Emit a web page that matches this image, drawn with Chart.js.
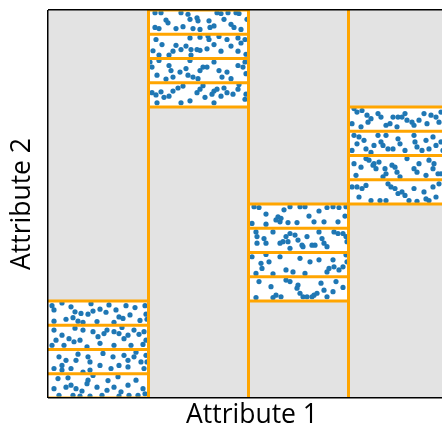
<!doctype html>
<html lang="en">
<head>
    <meta charset="utf-8">
    <title>Latin hypercube strata</title>
    <script src="https://cdn.jsdelivr.net/npm/chart.js@4.4.0/dist/chart.umd.min.js"></script>
</head>
<style>
    body{
        margin: 0;
        overflow: hidden;
        background: #fff;
    }
    #wrap{
        width: 460px;
        height: 428px;
    }
</style>
<body>
    <div id="wrap">
        <canvas id="myChart" width="460" height="428"></canvas>
    </div>
  <script>
        // one interval of attribute 1 per column, paired with one quarter of attribute 2
        const attr1Bins = [0, 1, 2, 3];
        const attr2Bins = [0, 3, 1, 2];
        const binWidth = 1;
        const binHeight = 0.25;
        const subStrata = 4;
        const xMax = 4.08;

        // samples drawn inside each column
        const band1Points = [
            [0.04,0.238],[0.06,0.227],[0.23,0.235],[0.27,0.222],[0.33,0.218],[0.40,0.216],[0.25,0.207],[0.30,0.198],
            [0.45,0.224],[0.52,0.229],[0.61,0.240],[0.58,0.221],[0.68,0.227],[0.71,0.209],[0.78,0.238],[0.75,0.205],
            [0.82,0.214],[0.87,0.233],[0.97,0.238],[0.98,0.216],[0.99,0.203],[0.49,0.197],[0.18,0.203],[0.06,0.198],
            [0.35,0.195],[0.66,0.195],[0.92,0.200],[0.14,0.245],[0.43,0.243],
            [0.06,0.175],[0.08,0.149],[0.14,0.162],[0.21,0.153],[0.26,0.145],[0.32,0.149],[0.35,0.175],[0.45,0.171],
            [0.50,0.158],[0.56,0.166],[0.52,0.141],[0.59,0.175],[0.66,0.171],[0.71,0.166],[0.76,0.153],[0.80,0.162],
            [0.86,0.175],[0.91,0.164],[0.96,0.171],[0.98,0.149],[0.04,0.136],[0.16,0.136],[0.39,0.132],[0.66,0.136],
            [0.83,0.136],[0.95,0.138],[0.27,0.180],[0.74,0.182],
            [0.11,0.106],[0.18,0.097],[0.28,0.097],[0.40,0.106],[0.42,0.093],[0.52,0.084],[0.63,0.076],[0.65,0.106],
            [0.76,0.110],[0.80,0.097],[0.86,0.106],[0.93,0.093],[0.99,0.093],[0.06,0.076],[0.14,0.072],[0.23,0.076],
            [0.35,0.067],[0.42,0.072],[0.71,0.084],[0.80,0.080],[0.96,0.076],[0.14,0.084],[0.55,0.115],[0.30,0.113],
            [0.88,0.118],[0.98,0.110],
            [0.06,0.024],[0.18,0.028],[0.23,0.033],[0.28,0.024],[0.39,0.037],[0.40,0.046],[0.49,0.028],[0.59,0.020],
            [0.66,0.028],[0.73,0.016],[0.80,0.033],[0.88,0.046],[0.95,0.024],[0.97,0.011],[0.11,0.007],[0.25,0.007],
            [0.32,0.005],[0.42,0.005],[0.54,0.007],[0.71,0.005],[0.81,0.007],[0.90,0.007],[0.45,0.058],[0.70,0.055],
            [0.20,0.052],[0.60,0.045],[0.10,0.050],[0.34,0.018]
        ];
        const band2Points = [
            [1.07,0.993],[1.13,0.993],[1.18,0.974],[1.20,0.967],[1.07,0.955],[1.11,0.952],[1.33,0.993],[1.35,0.957],
            [1.42,0.976],[1.49,0.980],[1.50,0.972],[1.45,0.952],[1.52,0.950],[1.61,0.972],[1.62,0.955],[1.69,0.993],
            [1.73,0.991],[1.76,0.976],[1.80,0.993],[1.83,0.963],[1.88,0.993],[1.91,0.991],[1.93,0.950],[1.99,0.976],
            [1.40,0.989],[1.66,0.959],[1.86,0.955],[1.28,0.952],
            [1.08,0.924],[1.14,0.911],[1.25,0.894],[1.28,0.909],[1.33,0.898],[1.38,0.907],[1.42,0.928],[1.43,0.898],
            [1.49,0.898],[1.52,0.930],[1.52,0.896],[1.59,0.900],[1.61,0.924],[1.66,0.911],[1.71,0.932],[1.73,0.894],
            [1.79,0.924],[1.83,0.907],[1.90,0.928],[1.93,0.915],[1.97,0.924],[1.98,0.886],[1.90,0.894],[1.11,0.884],
            [1.21,0.884],[1.43,0.884],[1.60,0.933],[1.05,0.895],
            [1.02,0.866],[1.04,0.853],[1.09,0.832],[1.21,0.857],[1.23,0.844],[1.25,0.827],[1.32,0.840],[1.38,0.849],
            [1.40,0.832],[1.45,0.827],[1.50,0.823],[1.52,0.844],[1.55,0.853],[1.59,0.853],[1.71,0.844],[1.74,0.827],
            [1.79,0.840],[1.90,0.857],[1.95,0.853],[1.97,0.866],[1.98,0.836],[1.11,0.870],[1.42,0.870],[1.66,0.866],
            [1.83,0.823],[1.18,0.822],
            [1.04,0.787],[1.08,0.781],[1.13,0.789],[1.16,0.775],[1.21,0.778],[1.25,0.791],[1.30,0.799],[1.35,0.804],
            [1.33,0.761],[1.49,0.787],[1.52,0.796],[1.57,0.775],[1.64,0.783],[1.66,0.791],[1.69,0.796],[1.73,0.778],
            [1.76,0.799],[1.79,0.787],[1.85,0.783],[1.90,0.796],[1.91,0.808],[1.97,0.770],[1.98,0.783],[1.09,0.761],
            [1.42,0.766],[1.66,0.761],[1.55,0.805]
        ];
        const band3Points = [
            [2.06,0.493],[2.11,0.491],[2.18,0.474],[2.28,0.459],[2.30,0.467],[2.32,0.454],[2.33,0.463],[2.40,0.452],
            [2.42,0.493],[2.52,0.493],[2.57,0.493],[2.61,0.469],[2.66,0.454],[2.71,0.482],[2.79,0.491],[2.85,0.493],
            [2.90,0.454],[2.91,0.491],[2.97,0.469],[2.98,0.493],[2.04,0.450],[2.49,0.452],[2.76,0.454],[2.18,0.448],
            [2.36,0.485],
            [2.08,0.428],[2.09,0.416],[2.16,0.411],[2.09,0.399],[2.18,0.399],[2.32,0.399],[2.35,0.403],[2.38,0.416],
            [2.40,0.403],[2.42,0.424],[2.47,0.420],[2.50,0.407],[2.54,0.394],[2.55,0.390],[2.64,0.394],[2.67,0.394],
            [2.71,0.428],[2.74,0.411],[2.76,0.399],[2.79,0.390],[2.86,0.428],[2.90,0.424],[2.95,0.424],[2.98,0.416],
            [2.99,0.403],[2.25,0.428],[2.59,0.416],[2.42,0.386],
            [2.04,0.364],[2.13,0.347],[2.14,0.334],[2.21,0.351],[2.38,0.330],[2.45,0.325],[2.62,0.351],[2.79,0.325],
            [2.81,0.334],[2.86,0.338],[2.91,0.330],[2.95,0.338],[2.98,0.369],[2.99,0.351],[2.71,0.356],[2.32,0.364],
            [2.52,0.360],[2.08,0.321],[2.25,0.320],[2.85,0.356],[2.57,0.321],[2.18,0.370],
            [2.23,0.287],[2.28,0.265],[2.38,0.304],[2.42,0.300],[2.49,0.283],[2.50,0.291],[2.52,0.270],[2.55,0.261],
            [2.59,0.261],[2.64,0.261],[2.66,0.265],[2.69,0.270],[2.76,0.278],[2.79,0.261],[2.85,0.274],[2.88,0.300],
            [2.33,0.261],[2.25,0.259],[2.11,0.300],[2.08,0.259],[2.73,0.296],[2.95,0.285]
        ];
        const band4Points = [
            [3.06,0.746],[3.09,0.737],[3.14,0.741],[3.19,0.729],[3.23,0.720],[3.20,0.711],[3.30,0.733],[3.33,0.724],
            [3.38,0.703],[3.42,0.707],[3.45,0.724],[3.50,0.724],[3.54,0.724],[3.57,0.733],[3.59,0.716],[3.64,0.711],
            [3.66,0.703],[3.76,0.733],[3.79,0.707],[3.83,0.729],[3.88,0.724],[3.91,0.711],[3.93,0.737],[3.04,0.707],
            [3.13,0.699],[3.49,0.699],[3.71,0.716],
            [3.06,0.677],[3.11,0.673],[3.09,0.655],[3.16,0.664],[3.18,0.642],[3.26,0.651],[3.30,0.677],[3.33,0.660],
            [3.35,0.651],[3.38,0.677],[3.40,0.642],[3.50,0.668],[3.52,0.655],[3.57,0.638],[3.66,0.677],[3.67,0.660],
            [3.69,0.647],[3.74,0.638],[3.78,0.664],[3.81,0.642],[3.85,0.673],[3.88,0.651],[3.93,0.660],[3.95,0.638],
            [3.04,0.638],[3.45,0.642],[3.23,0.633],
            [3.06,0.604],[3.13,0.595],[3.18,0.617],[3.21,0.613],[3.25,0.600],[3.26,0.604],[3.28,0.591],[3.31,0.608],
            [3.37,0.591],[3.38,0.578],[3.44,0.600],[3.47,0.595],[3.49,0.582],[3.52,0.570],[3.66,0.591],[3.69,0.582],
            [3.71,0.604],[3.78,0.574],[3.81,0.613],[3.86,0.604],[3.90,0.578],[3.93,0.578],[3.08,0.574],[3.59,0.617],
            [3.85,0.591],[3.35,0.570],
            [3.04,0.544],[3.09,0.544],[3.14,0.540],[3.23,0.509],[3.32,0.509],[3.40,0.552],[3.43,0.544],[3.47,0.540],
            [3.50,0.527],[3.54,0.531],[3.57,0.522],[3.61,0.509],[3.66,0.540],[3.76,0.531],[3.78,0.513],[3.81,0.509],
            [3.85,0.544],[3.88,0.518],[3.91,0.552],[3.18,0.548],[3.11,0.518],[3.69,0.507],[3.38,0.509]
        ];

        const ORANGE = '#ffa500';
        const BLUE = '#1f77b4';

        let samples = [].concat(band1Points, band2Points, band3Points, band4Points)
            .map(p => ({x: p[0], y: p[1]}));

        // white boxes behind the samples
        let boxes = attr1Bins.map((a, i) => ({
            x: a + binWidth / 2,
            y: [attr2Bins[i] * binHeight, (attr2Bins[i] + 1) * binHeight]
        }));

        // horizontal edges of the sub strata, broken between columns
        let edges = [];
        attr1Bins.forEach((a, i) => {
            let y0 = attr2Bins[i] * binHeight;
            for (let k = 0; k <= subStrata; k++) {
                let y = y0 + k * binHeight / subStrata;
                edges.push({x: a, y: y}, {x: a + binWidth, y: y}, {x: a + binWidth, y: null});
            }
        });

        let plotBg = {
            id: 'plotBg',
            beforeDraw(chart){
                let {ctx, chartArea} = chart;
                ctx.save();
                ctx.fillStyle = '#e3e3e3';
                ctx.fillRect(chartArea.left, chartArea.top, chartArea.width, chartArea.height);
                ctx.restore();
            }
        };

        let isFrame = (ctx, hi) => ctx.tick && (ctx.tick.value === 0 || ctx.tick.value >= hi);
        let titleFont = {family: "'Open Sans', sans-serif", size: 26.5, lineHeight: 1};

        let myChart = new Chart(document.getElementById('myChart'), {
            type: 'scatter',
            data: {
                datasets: [{
                    type: 'line',
                    label: 'edges',
                    data: edges,
                    borderColor: ORANGE,
                    borderWidth: 3,
                    pointRadius: 0,
                    spanGaps: false,
                    fill: false,
                    order: 1
                }, {
                    label: 'samples',
                    data: samples,
                    backgroundColor: BLUE,
                    borderWidth: 0,
                    pointRadius: 2.6,
                    order: 2
                }, {
                    type: 'bar',
                    label: 'strata',
                    data: boxes,
                    backgroundColor: '#ffffff',
                    borderWidth: 0,
                    grouped: false,
                    barPercentage: 1,
                    categoryPercentage: 1,
                    order: 3
                }]
            },
            options: {
                responsive: false,
                animation: false,
                devicePixelRatio: 1,
                layout: {padding: {top: 10, right: 4, bottom: 0, left: 0}},
                plugins: {
                    legend: {display: false},
                    tooltip: {enabled: false}
                },
                scales: {
                    x: {
                        type: 'linear',
                        min: 0,
                        max: xMax,
                        offset: false,
                        ticks: {display: false, stepSize: 1},
                        border: {display: false},
                        grid: {
                            z: 1,
                            offset: false,
                            drawTicks: false,
                            color: ctx => isFrame(ctx, xMax) ? '#000' : ORANGE,
                            lineWidth: ctx => isFrame(ctx, xMax) ? 1.5 : 3
                        },
                        title: {
                            display: true,
                            text: 'Attribute 1',
                            color: '#000',
                            font: titleFont,
                            padding: {top: 4.5, bottom: -1}
                        }
                    },
                    y: {
                        type: 'linear',
                        min: 0,
                        max: 1,
                        ticks: {display: false, stepSize: 1},
                        border: {display: false},
                        grid: {
                            z: 1,
                            drawTicks: false,
                            color: '#000',
                            lineWidth: 1.5
                        },
                        title: {
                            display: true,
                            text: 'Attribute 2',
                            color: '#000',
                            font: titleFont,
                            padding: {top: 9.5, bottom: 12}
                        }
                    }
                }
            },
            plugins: [plotBg]
        });
  </script>
</body>
</html>
